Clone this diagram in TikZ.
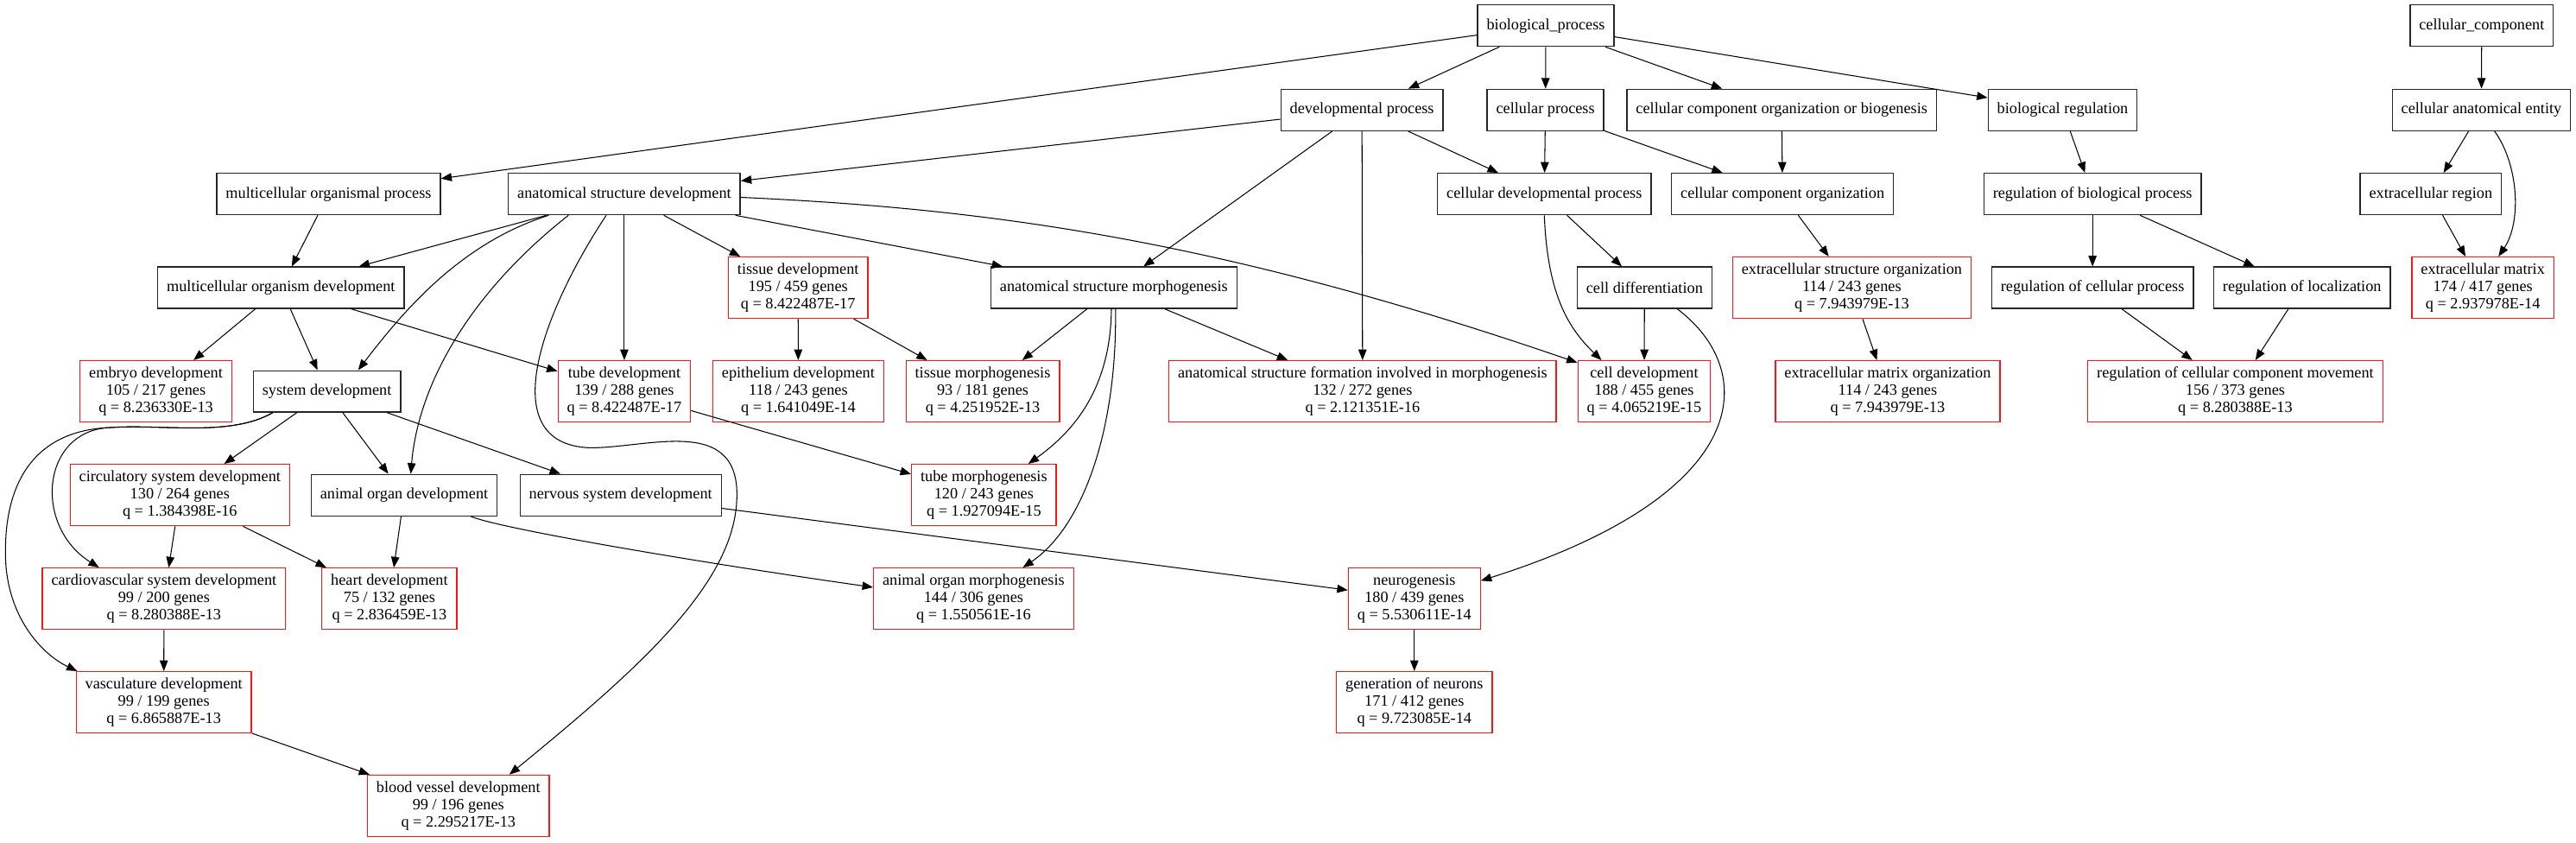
\documentclass[tikz,border=0pt]{standalone}
\usepackage{fontspec}
\setmainfont{Liberation Serif}
\usepackage{tikz}
\usetikzlibrary{arrows.meta}
\definecolor{hitred}{RGB}{255,20,20}

\begin{document}
\begin{tikzpicture}[x=1pt, y=1pt,
  term/.style={rectangle, draw=black!85, line width=0.7pt, inner xsep=5.5pt, inner ysep=2pt,
    minimum height=25.2pt, align=center, font=\fontsize{9.6}{10.5}\selectfont},
  hit/.style={term, draw=hitred, minimum height=37.3pt},
  arr/.style={-{Triangle[length=6.5pt,width=5pt]}, line width=0.55pt}]
\useasboundingbox (0,0) rectangle (1568,-513);
% row 0 and 1
\node[term] (bp) at (940.9,-15.6) {biological\_process};
\node[term] (cc) at (1510.6,-15.6) {cellular\_component};
\node[term] (devp) at (829,-66.9) {developmental process};
\node[term] (cellp) at (940.7,-66.9) {cellular process};
\node[term] (ccob) at (1084.5,-66.9) {cellular component organization or biogenesis};
\node[term] (breg) at (1255.5,-66.9) {biological regulation};
\node[term] (cae) at (1510.4,-66.9) {cellular anatomical entity};
% row 2
\node[term] (mop) at (200,-118.1) {multicellular organismal process};
\node[term] (asd) at (380,-118.1) {anatomical structure development};
\node[term] (cdp) at (940,-118.1) {cellular developmental process};
\node[term] (cco) at (1085,-118.1) {cellular component organization};
\node[term] (rbp) at (1273.7,-118.1) {regulation of biological process};
\node[term] (er) at (1479.6,-118.1) {extracellular region};
% row 3
\node[term] (mod) at (171,-175.1) {multicellular organism development};
\node[hit] (tisdev) at (485.8,-175.1) {tissue development\\195 / 459 genes\\q = 8.422487E-17};
\node[term] (asm) at (678,-175.1) {anatomical structure morphogenesis};
\node[term] (celldiff) at (1001,-175.1) {cell differentiation};
\node[hit] (eso) at (1127.2,-175.1) {extracellular structure organization\\114 / 243 genes\\q = 7.943979E-13};
\node[term] (rcp) at (1273.7,-175.1) {regulation of cellular process};
\node[term] (rloc) at (1401.2,-175.1) {regulation of localization};
\node[hit] (ecm) at (1511.3,-175.1) {extracellular matrix\\174 / 417 genes\\q = 2.937978E-14};
% row 4
\node[hit] (embryo) at (94.9,-238.2) {embryo development\\105 / 217 genes\\q = 8.236330E-13};
\node[term] (sysdev) at (199,-238.2) {system development};
\node[hit] (tubedev) at (380,-238.2) {tube development\\139 / 288 genes\\q = 8.422487E-17};
\node[hit] (epidev) at (485.9,-238.2) {epithelium development\\118 / 243 genes\\q = 1.641049E-14};
\node[hit] (tismorph) at (598.2,-238.2) {tissue morphogenesis\\93 / 181 genes\\q = 4.251952E-13};
\node[hit] (asfim) at (829.4,-238.2) {anatomical structure formation involved in morphogenesis\\132 / 272 genes\\q = 2.121351E-16};
\node[hit] (celldev) at (1000.8,-238.2) {cell development\\188 / 455 genes\\q = 4.065219E-15};
\node[hit] (ecmorg) at (1149,-238.2) {extracellular matrix organization\\114 / 243 genes\\q = 7.943979E-13};
\node[hit] (rccm) at (1360.6,-238.2) {regulation of cellular component movement\\156 / 373 genes\\q = 8.280388E-13};
% row 5
\node[hit] (circ) at (109.5,-301.3) {circulatory system development\\130 / 264 genes\\q = 1.384398E-16};
\node[term] (aod) at (246,-301.3) {animal organ development};
\node[term] (nsd) at (377.8,-301.3) {nervous system development};
\node[hit] (tubemorph) at (598.9,-301.3) {tube morphogenesis\\120 / 243 genes\\q = 1.927094E-15};
% row 6 to 8
\node[hit] (cardio) at (99.8,-364.4) {cardiovascular system development\\99 / 200 genes\\q = 8.280388E-13};
\node[hit] (heart) at (237,-364.4) {heart development\\75 / 132 genes\\q = 2.836459E-13};
\node[hit] (aom) at (592.6,-364.4) {animal organ morphogenesis\\144 / 306 genes\\q = 1.550561E-16};
\node[hit] (neuro) at (860.9,-364.4) {neurogenesis\\180 / 439 genes\\q = 5.530611E-14};
\node[hit] (vasc) at (99.7,-427.4) {vasculature development\\99 / 199 genes\\q = 6.865887E-13};
\node[hit] (genneu) at (860.9,-427.4) {generation of neurons\\171 / 412 genes\\q = 9.723085E-14};
\node[hit] (bvd) at (279,-490.4) {blood vessel development\\99 / 196 genes\\q = 2.295217E-13};
% straight edges
\draw[arr] (bp) -- (devp);
\draw[arr] (bp) -- (cellp);
\draw[arr] (bp) -- (ccob);
\draw[arr] (bp) -- (breg);
\draw[arr] (bp) -- (mop);
\draw[arr] (devp) -- (asd);
\draw[arr] (devp) -- (cdp);
\draw[arr] (devp) -- (asm);
\draw[arr] (devp) -- (asfim);
\draw[arr] (cellp) -- (cdp);
\draw[arr] (cellp) -- (cco);
\draw[arr] (ccob) -- (cco);
\draw[arr] (breg) -- (rbp);
\draw[arr] (cc) -- (cae);
\draw[arr] (cae) -- (er);
\draw[arr] (er) -- (ecm);
\draw[arr] (mop) -- (mod);
\draw[arr] (asd) -- (mod);
\draw[arr] (asd) -- (tubedev);
\draw[arr] (asd) -- (tisdev);
\draw[arr] (asd) -- (asm);
\draw[arr] (cdp) -- (celldiff);
\draw[arr] (celldiff) -- (celldev);
\draw[arr] (cco) -- (eso);
\draw[arr] (eso) -- (ecmorg);
\draw[arr] (rbp) -- (rcp);
\draw[arr] (rbp) -- (rloc);
\draw[arr] (rcp) -- (rccm);
\draw[arr] (rloc) -- (rccm);
\draw[arr] (mod) -- (embryo);
\draw[arr] (mod) -- (sysdev);
\draw[arr] (mod) -- (tubedev);
\draw[arr] (tisdev) -- (epidev);
\draw[arr] (tisdev) -- (tismorph);
\draw[arr] (asm) -- (tismorph);
\draw[arr] (asm) -- (asfim);
\draw[arr] (tubedev) -- (tubemorph);
\draw[arr] (sysdev) -- (circ);
\draw[arr] (sysdev) -- (aod);
\draw[arr] (sysdev) -- (nsd);
\draw[arr] (circ) -- (cardio);
\draw[arr] (circ) -- (heart);
\draw[arr] (aod) -- (heart);
\draw[arr] (cardio) -- (vasc);
\draw[arr] (vasc) -- (bvd);
\draw[arr] (nsd) -- (neuro);
\draw[arr] (neuro) -- (genneu);
% curved edges
\draw[arr] ([xshift=-46pt]asd.south) .. controls (280,-148) and (245,-190) .. ([xshift=19pt]sysdev.north);
\draw[arr] ([xshift=-34pt]asd.south) .. controls (290,-175) and (255,-230) .. ([xshift=4pt]aod.north);
\draw[arr] ([xshift=-11pt]asd.south) .. controls (330,-190) and (300,-270) .. (358.7,-272.5)
  .. controls (395,-273) and (455,-250) .. (448,-310) .. controls (442,-360) and (385,-410) .. ([xshift=31pt]bvd.north);
\draw[arr] ([yshift=-2pt]asd.east) .. controls (600,-127) and (740,-145) .. ([yshift=-1.5pt]celldev.north west);
\draw[arr] (cdp.south) .. controls (942,-180) and (955,-200) .. ([xshift=-26pt]celldev.north);
\draw[arr] ([xshift=20pt]celldiff.south) .. controls (1070,-225) and (1070,-300) .. ([yshift=11pt]neuro.east);
\draw[arr] ([xshift=-1.5pt]asm.south) .. controls (676,-240) and (650,-265) .. ([xshift=27pt]tubemorph.north);
\draw[arr] ([xshift=1pt]asm.south) .. controls (680,-260) and (660,-320) .. ([xshift=30pt]aom.north);
\draw[arr] ([xshift=40.5pt]aod.south) .. controls (305,-322) and (430,-343) .. ([yshift=7pt]aom.west);
\draw[arr] ([xshift=-33pt]sysdev.south) .. controls (140,-266) and (100,-258) .. (67,-260.2)
  .. controls (25,-262) and (20,-320) .. ([xshift=-39.5pt]cardio.north);
\draw[arr] ([xshift=-33pt]sysdev.south) .. controls (140,-266) and (100,-258) .. (67,-260.2)
  .. controls (20,-262) and (2,-295) .. (3.4,-340) .. controls (4.5,-375) and (25,-398) .. ([xshift=1pt]vasc.north west);
\draw[arr] ([xshift=8pt]cae.south) .. controls (1533,-100) and (1535,-135) .. ([xshift=9.5pt]ecm.north);
\end{tikzpicture}
\end{document}
